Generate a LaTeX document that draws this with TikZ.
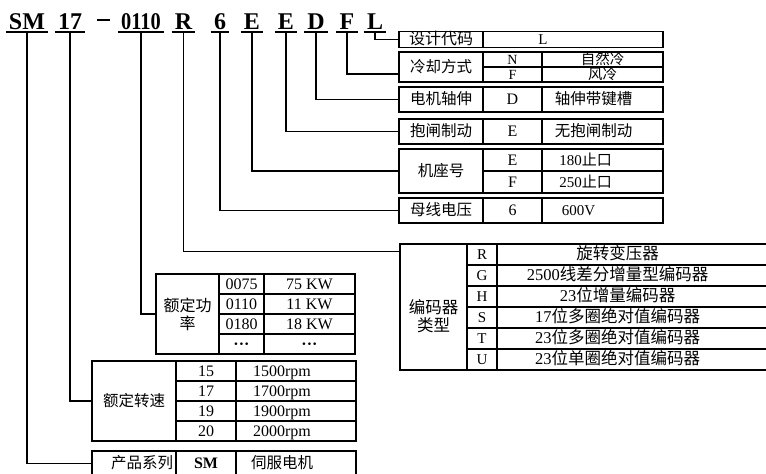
\documentclass[tikz,border=0pt]{standalone}
\usepackage{fontspec}
\setmainfont{Liberation Serif}
\newfontfamily\cn{Noto Sans CJK SC}

% shift a cell text to the left by #1
\newcommand\nudge[2]{\makebox[0pt][l]{\hspace*{-#1}\makebox[0pt]{#2}}}

\tikzset{
  box/.style={draw, line width=1.2pt, inner sep=0pt},
  tcell/.style={box, text height=12pt, text depth=2pt},
  zh/.style={font=\cn\fontsize{#1}{18}\selectfont}, zh/.default=15.5,
  en/.style={font=\fontsize{#1}{18}\selectfont}, en/.default=15,
  code/.style={font=\fontsize{24}{24}\selectfont\bfseries, anchor=base,
    inner xsep=3pt, inner ysep=3pt, text depth=0pt},
  link/.style={line width=1.3pt}
}

\begin{document}
\begin{tikzpicture}[x=1pt, y=-1pt]
\useasboundingbox (0,0) rectangle (766,474);

% model code
\node[code] (hSM) at (27,29) {SM};
\node[code] (h17) at (70,29) {17};
\node[inner sep=0pt] (hdash) at (103.5,20) {\rule{13pt}{2.6pt}};
\node[code] (h0110) at (141,29) {\scalebox{0.85}[1]{0110}};
\node[code] (hR) at (183.5,29) {R};
\node[code] (h6) at (220,29) {6};
\node[code] (hE1) at (252,29) {E};
\node[code] (hE2) at (286,29) {E};
\node[code] (hD) at (316,29) {D};
\node[code] (hF) at (347,29) {F};
\node[code] (hL) at (375,29) {L};
\foreach \n in {hSM,h17,h0110,hR,h6,hE1,hE2,hD,hF,hL}
  \draw[line width=1.5pt] (\n.south west) -- (\n.south east);

% design code
\node[tcell, zh=16, minimum width=84pt, minimum height=16pt] (design) at (441,39.5) {设计代码};
\node[tcell, en, minimum width=180pt, minimum height=16pt] (designv) at (573,39.5) {\nudge{30pt}{L}};

% cooling
\node[tcell, zh, minimum width=84pt, minimum height=30pt] (cool) at (441,67) {冷却方式};
\node[tcell, en=14, minimum width=59pt, minimum height=15pt] (coolN) at (512.5,59.5) {N};
\node[tcell, zh=14.5, minimum width=121pt, minimum height=15pt] (coolNv) at (602.5,59.5) {自然冷};
\node[tcell, en=14, minimum width=59pt, minimum height=15pt] (coolF) at (512.5,74.5) {F};
\node[tcell, zh=14.5, minimum width=121pt, minimum height=15pt] (coolFv) at (602.5,74.5) {风冷};

% shaft
\node[tcell, zh, minimum width=84pt, minimum height=25pt] (shaft) at (441,99.5) {电机轴伸};
\node[tcell, en=16, minimum width=59pt, minimum height=25pt] (shaftk) at (512.5,99.5) {D};
\node[tcell, zh, minimum width=121pt, minimum height=25pt] (shaftv) at (602.5,99.5) {\nudge{9pt}{轴伸带键槽}};

% brake
\node[tcell, zh, minimum width=84pt, minimum height=25pt] (brake) at (441,131.5) {抱闸制动};
\node[tcell, en=16, minimum width=59pt, minimum height=25pt] (brakek) at (512.5,131.5) {E};
\node[tcell, zh, minimum width=121pt, minimum height=25pt] (brakev) at (602.5,131.5) {\nudge{9pt}{无抱闸制动}};

% frame
\node[tcell, zh, minimum width=84pt, minimum height=44pt] (frame) at (441,171) {机座号};
\foreach \k/\v [count=\i from 0] in {E/180, F/250} {
  \node[tcell, en=16, minimum width=59pt, minimum height=22pt] (framek\i) at (512.5,160+22*\i) {\k};
  \node[tcell, en=15, minimum width=121pt, minimum height=22pt] (framev\i) at (602.5,160+22*\i) {\nudge{17pt}{\v{\cn 止口}}};
}

% bus voltage
\node[tcell, zh, minimum width=84pt, minimum height=25pt] (bus) at (441,210.5) {母线电压};
\node[tcell, en=16, minimum width=59pt, minimum height=25pt] (busk) at (512.5,210.5) {6};
\node[tcell, en, minimum width=121pt, minimum height=25pt] (busv) at (602.5,210.5) {\nudge{24pt}{600V}};

% encoder
\node[box, minimum width=67pt, minimum height=126pt] (enc) at (433.5,307) {};
\node[zh=16.5, align=center] (enclbl) at (433.5,316) {编码器\\类型};
\foreach \k/\d [count=\i from 0] in {R/旋转变压器,
    G/{\rmfamily 2500}线差分增量型编码器, H/{\rmfamily 23}位增量编码器,
    S/{\rmfamily 17}位多圈绝对值编码器, T/{\rmfamily 23}位多圈绝对值编码器,
    U/{\rmfamily 23}位单圈绝对值编码器} {
  \node[tcell, en=15, minimum width=30pt, minimum height=21pt] (enck\i) at (482,254.5+21*\i) {\k};
  \node[tcell, zh=16.5, minimum width=271pt, minimum height=21pt] (encd\i) at (632.5,254.5+21*\i) {\nudge{15pt}{\d}};
}

% power
\node[box, zh=16, align=center, minimum width=63pt, minimum height=80pt] (power) at (187.5,314) {额定功\\率};
\foreach \k/\v [count=\i from 0] in {0075/75 KW, 0110/11 KW, 0180/18 KW, \textbf{···}/\textbf{···}} {
  \node[tcell, en=16, minimum width=45pt, minimum height=20pt] (powk\i) at (241.5,284+20*\i) {\k};
  \node[tcell, en=16, minimum width=91pt, minimum height=20pt] (powv\i) at (309.5,284+20*\i) {\v};
}

% speed
\node[tcell, zh, minimum width=84pt, minimum height=80pt] (speed) at (134,401) {额定转速};
\foreach \k/\v [count=\i from 0] in {15/1500rpm, 17/1700rpm, 19/1900rpm, 20/2000rpm} {
  \node[tcell, en=16, minimum width=60pt, minimum height=20pt] (speedk\i) at (206,371+20*\i) {\k};
  \node[tcell, en=16, minimum width=120pt, minimum height=20pt] (speedv\i) at (296,371+20*\i) {\nudge{14pt}{\v}};
}

% series
\node[tcell, zh, minimum width=84pt, minimum height=25pt] (prod) at (134,463.5) {\nudge{-8pt}{产品系列}};
\node[tcell, en=16, minimum width=60pt, minimum height=25pt] (prodk) at (206,463.5) {\textbf{SM}};
\node[tcell, zh, minimum width=120pt, minimum height=25pt] (prodv) at (296,463.5) {\nudge{14pt}{伺服电机}};

% connectors
\draw[link] (hSM.south) |- (prod.west);
\draw[link] (h17.south) |- (speed.west);
\draw[link] (h0110.south) |- (power.west);
\draw[link] (hR.south) |- ([yshift=-8pt]enc.north west);
\draw[link] (h6.south) |- (bus.west);
\draw[link] (hE1.south) |- (frame.west);
\draw[link] (hE2.south) |- (brake.west);
\draw[link] (hD.south) |- (shaft.west);
\draw[link] (hF.south) |- ([yshift=-7pt]cool.west);
\draw[link] (hL.south) |- (design.west);
\end{tikzpicture}
\end{document}
